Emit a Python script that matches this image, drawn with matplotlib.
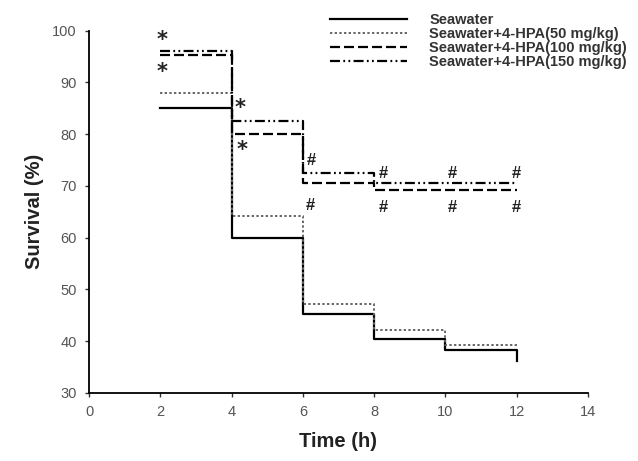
import matplotlib.pyplot as plt

plt.rcParams['font.family'] = ['Liberation Sans', 'DejaVu Sans']

time = [2, 4, 6, 8, 10, 12]
seawater = [85, 60, 45.2, 40.3, 38.2, 36.1]
hpa50 = [88, 64.2, 47.1, 42.2, 39.2, 39.2]
hpa100 = [95.3, 80.1, 70.5, 69.2, 69.2, 69.2]
hpa150 = [96, 82.6, 72.4, 70.5, 70.5, 70.5]

labels = ['Seawater', 'Seawater+4-HPA(50 mg/kg)',
          'Seawater+4-HPA(100 mg/kg)', 'Seawater+4-HPA(150 mg/kg)']

# significance marks
star_x = [2.05, 2.05, 4.25, 4.3]
star_y = [98.2, 92.0, 85.0, 77.0]
hash_x = [6.25, 8.25, 10.2, 12.0, 6.2, 8.25, 10.2, 12.0]
hash_y = [74.9, 72.4, 72.4, 72.4, 66.2, 65.8, 65.8, 65.8]

fig = plt.figure(figsize=(6.38, 4.61), dpi=100)
ax = fig.add_axes([0.1395, 0.148, 0.782, 0.7855])

ax.step(time, seawater, where='post', color='black', lw=1.6, label=labels[0])
ax.step(time, hpa50, where='post', color='#666666', lw=1.4,
        linestyle=(0, (1.2, 1.2)), label=labels[1])
ax.step(time, hpa100, where='post', color='black', lw=1.6,
        linestyle=(0, (4.5, 1.8)), label=labels[2])
ax.step(time, hpa150, where='post', color='black', lw=1.6,
        linestyle=(0, (4.5, 1.5, 0.8, 1.5, 0.8, 1.5)), label=labels[3])

for x, y in zip(star_x, star_y):
    ax.text(x, y, '*', fontsize=15, fontweight='bold', ha='center',
            va='center', family='DejaVu Sans', color='#222222')
for x, y in zip(hash_x, hash_y):
    ax.text(x, y, '#', fontsize=12, fontweight='bold', ha='center',
            va='center', color='#222222')

ax.set_xlim(0, 14)
ax.set_ylim(30, 100)
ax.set_xticks(range(0, 15, 2))
ax.set_yticks(range(30, 101, 10))
for s in ['top', 'right']:
    ax.spines[s].set_visible(False)
for s in ['left', 'bottom']:
    ax.spines[s].set_linewidth(1.3)
ax.tick_params(direction='out', length=3, width=1, colors='#333333',
               labelcolor='#555555', labelsize=10.5, pad=6)

ax.set_xlabel('Time (h)', fontsize=14.5, fontweight='bold', color='#222222',
              labelpad=9)
ax.set_ylabel('Survival (%)', fontsize=14.5, fontweight='bold', color='#222222',
              labelpad=6)

leg = ax.legend(loc='upper left', bbox_to_anchor=(330 / 638, 1 - 13 / 461),
                bbox_transform=fig.transFigure, frameon=False, fontsize=10.5,
                handlelength=5.3, handletextpad=1.5, labelspacing=0.0,
                borderpad=0, borderaxespad=0)
for t in leg.get_texts():
    t.set_fontweight('bold')
    t.set_color('#333333')

fig.savefig('out.png', dpi=100)
